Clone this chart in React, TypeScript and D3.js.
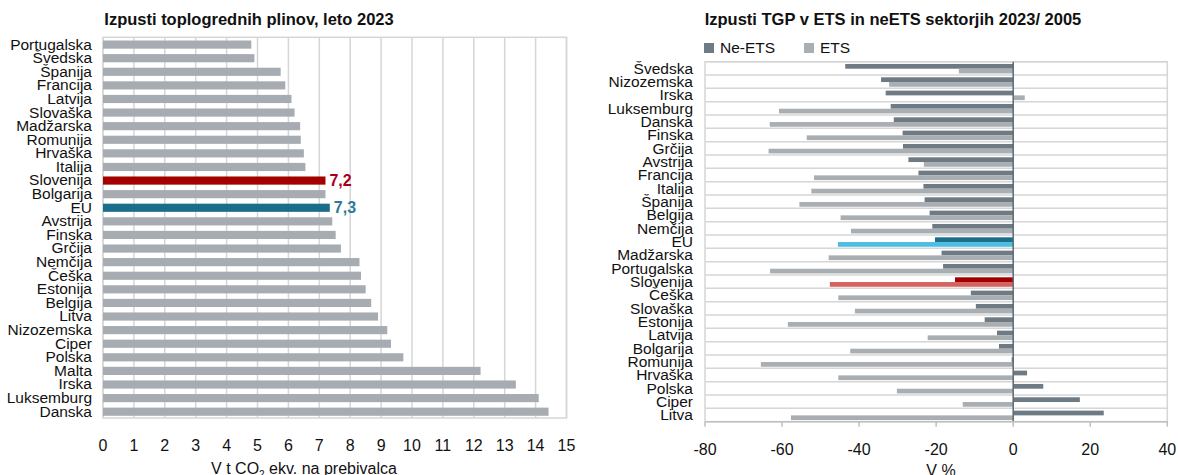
import React from 'react';
import * as d3 from 'd3';

// ---------- Left chart data ----------
const leftCategories = [
  'Portugalska', 'Švedska', 'Španija', 'Francija', 'Latvija', 'Slovaška', 'Madžarska',
  'Romunija', 'Hrvaška', 'Italija', 'Slovenija', 'Bolgarija', 'EU', 'Avstrija', 'Finska',
  'Grčija', 'Nemčija', 'Češka', 'Estonija', 'Belgija', 'Litva', 'Nizozemska', 'Ciper',
  'Polska', 'Malta', 'Irska', 'Luksemburg', 'Danska',
];
const leftValues = [
  4.8, 4.9, 5.75, 5.9, 6.1, 6.2, 6.38, 6.4, 6.5, 6.55, 7.2, 7.2, 7.34, 7.42, 7.53,
  7.7, 8.3, 8.35, 8.5, 8.68, 8.9, 9.2, 9.32, 9.72, 12.22, 13.36, 14.1, 14.42,
];
const leftTicks = [0, 1, 2, 3, 4, 5, 6, 7, 8, 9, 10, 11, 12, 13, 14, 15];
const leftLabelCats = ['Slovenija', 'EU'];
const leftLabelTexts = ['7,2', '7,3'];

// ---------- Right chart data ----------
const rightCategories = [
  'Švedska', 'Nizozemska', 'Irska', 'Luksemburg', 'Danska', 'Finska', 'Grčija', 'Avstrija',
  'Francija', 'Italija', 'Španija', 'Belgija', 'Nemčija', 'EU', 'Madžarska', 'Portugalska',
  'Slovenija', 'Češka', 'Slovaška', 'Estonija', 'Latvija', 'Bolgarija', 'Romunija',
  'Hrvaška', 'Polska', 'Ciper', 'Litva',
];
const neEtsValues = [
  -43.6, -34.3, -33.1, -31.8, -31.0, -28.7, -28.6, -27.2, -24.6, -23.3, -23.0, -21.7, -21.0,
  -20.3, -18.6, -18.2, -15.1, -11.0, -9.7, -7.4, -4.2, -3.7, -0.4, 3.6, 7.8, 17.3, 23.5,
];
const etsValues = [
  -14.1, -32.2, 3.0, -60.8, -63.2, -53.6, -63.5, -23.2, -51.7, -52.4, -55.5, -44.8, -42.1,
  -45.5, -47.9, -63.1, -47.6, -45.4, -41.1, -58.5, -22.2, -42.3, -65.5, -45.4, -30.2, -13.1, -57.7,
];
const rightTicks = [-80, -60, -40, -20, 0, 20, 40];
const seriesNames = ['Ne-ETS', 'ETS'];

const FONT = "'Liberation Sans', Arial, sans-serif";
const GRID = '#D6D6D6';
const TXT = '#111';

function leftBarColor(c: string) {
  if (c === 'Slovenija') return '#A50000';
  if (c === 'EU') return '#1B6E8B';
  return '#A7ACB2';
}
function leftLabelColor(c: string) {
  return c === 'Slovenija' ? '#A8001C' : '#2A7C9A';
}
function rightColor(c: string, s: string) {
  if (c === 'EU') return s === 'Ne-ETS' ? '#1B6F8D' : '#4DBDE3';
  if (c === 'Slovenija') return s === 'Ne-ETS' ? '#A00000' : '#D6625F';
  return s === 'Ne-ETS' ? '#6E7A84' : '#A9AEB3';
}

function LeftChart() {
  const x = d3.scaleLinear().domain([0, 15]).range([103, 566.5]);
  const y = d3.scaleBand<string>().domain(leftCategories).range([37.3, 418]);
  const bw = y.bandwidth();
  const barH = bw * 0.6;
  const [y0, y1] = y.range();
  return (
    <g>
      <text x={249} y={25} textAnchor="middle" fontFamily={FONT} fontWeight="bold" fontSize={16.5} fill={TXT}>
        Izpusti toplogrednih plinov, leto 2023
      </text>
      {leftTicks.map((t) => (
        <line key={'g' + t} x1={x(t)} x2={x(t)} y1={y0} y2={y1} stroke={GRID} strokeWidth={1.5} />
      ))}
      <rect x={x(0)} y={y0} width={x(15) - x(0)} height={y1 - y0} fill="none" stroke={GRID} strokeWidth={1.5} />
      {leftCategories.map((c, i) => {
        const yc = (y(c) as number) + bw / 2;
        return (
          <g key={c}>
            <rect x={x(0)} y={yc - barH / 2 + 0.5} width={x(leftValues[i]) - x(0)} height={barH} fill={leftBarColor(c)} />
            <text x={92} y={yc} dy="0.35em" textAnchor="end" fontFamily={FONT} fontSize={15.5} fill={TXT}>
              {c}
            </text>
          </g>
        );
      })}
      {leftLabelCats.map((c, k) => {
        const i = leftCategories.indexOf(c);
        const yc = (y(c) as number) + bw / 2;
        return (
          <text key={'l' + c} x={x(leftValues[i]) + 4} y={yc} dy="0.38em" fontFamily={FONT} fontWeight="bold" fontSize={16} fill={leftLabelColor(c)}>
            {leftLabelTexts[k]}
          </text>
        );
      })}
      {leftTicks.map((t) => (
        <text key={'t' + t} x={x(t)} y={451} textAnchor="middle" fontFamily={FONT} fontSize={16} fill={TXT}>
          {t}
        </text>
      ))}
      <text x={304} y={474} textAnchor="middle" fontFamily={FONT} fontSize={16} fill={TXT}>
        V t CO<tspan fontSize={10} dy={4}>2</tspan><tspan dy={-4}> ekv. na prebivalca</tspan>
      </text>
    </g>
  );
}

function RightChart() {
  const x = d3.scaleLinear().domain([-80, 40]).range([705, 1167.3]);
  const y = d3.scaleBand<string>().domain(rightCategories).range([61.7, 421.7]);
  const bw = y.bandwidth();
  const ys = d3.scaleBand<string>().domain(seriesNames).range([bw * 0.17, bw * 0.88]);
  const [y0, y1] = y.range();
  const series = [neEtsValues, etsValues];
  return (
    <g>
      <text x={893} y={25} textAnchor="middle" fontFamily={FONT} fontWeight="bold" fontSize={16.5} fill={TXT}>
        Izpusti TGP v ETS in neETS sektorjih 2023/ 2005
      </text>
      {seriesNames.map((s, k) => (
        <g key={'lg' + s}>
          <rect x={704 + k * 100} y={43} width={10} height={10} fill={rightColor('', s)} />
          <text x={720 + k * 100} y={48} dy="0.35em" fontFamily={FONT} fontSize={15.5} fill={TXT}>
            {s}
          </text>
        </g>
      ))}
      {rightCategories.map((c) => (
        <line key={'h' + c} x1={x(-80)} x2={x(40)} y1={y(c) as number} y2={y(c) as number} stroke={GRID} strokeWidth={1.5} />
      ))}
      <rect x={x(-80)} y={y0} width={x(40) - x(-80)} height={y1 - y0} fill="none" stroke={GRID} strokeWidth={1.5} />
      {rightCategories.map((c, i) => (
        <g key={c}>
          {seriesNames.map((s, k) => {
            const v = series[k][i];
            return (
              <rect
                key={s}
                x={Math.min(x(v), x(0))}
                y={(y(c) as number) + (ys(s) as number)}
                width={Math.abs(x(v) - x(0))}
                height={ys.bandwidth()}
                fill={rightColor(c, s)}
              />
            );
          })}
          <text x={693} y={(y(c) as number) + bw / 2} dy="0.35em" textAnchor="end" fontFamily={FONT} fontSize={15.5} fill={TXT}>
            {c}
          </text>
        </g>
      ))}
      <line x1={x(0)} x2={x(0)} y1={y0} y2={y1} stroke="#5E6971" strokeWidth={1.5} />
      <line x1={x(-80)} x2={x(40)} y1={y1} y2={y1} stroke="#BFBFBF" strokeWidth={1.5} />
      {rightTicks.map((t) => (
        <g key={'rt' + t}>
          <line x1={x(t)} x2={x(t)} y1={y1} y2={y1 + 5} stroke="#BFBFBF" strokeWidth={1.5} />
          <text x={x(t)} y={455} textAnchor="middle" fontFamily={FONT} fontSize={16} fill={TXT}>
            {t}
          </text>
        </g>
      ))}
      <text x={941} y={476} textAnchor="middle" fontFamily={FONT} fontSize={16} fill={TXT}>
        V %
      </text>
    </g>
  );
}

export default function App() {
  return (
    <svg width={1178} height={475} style={{ position: 'absolute', left: 0, top: 0, background: '#fff' }}>
      <rect width={1178} height={475} fill="#fff" />
      <LeftChart />
      <RightChart />
    </svg>
  );
}
